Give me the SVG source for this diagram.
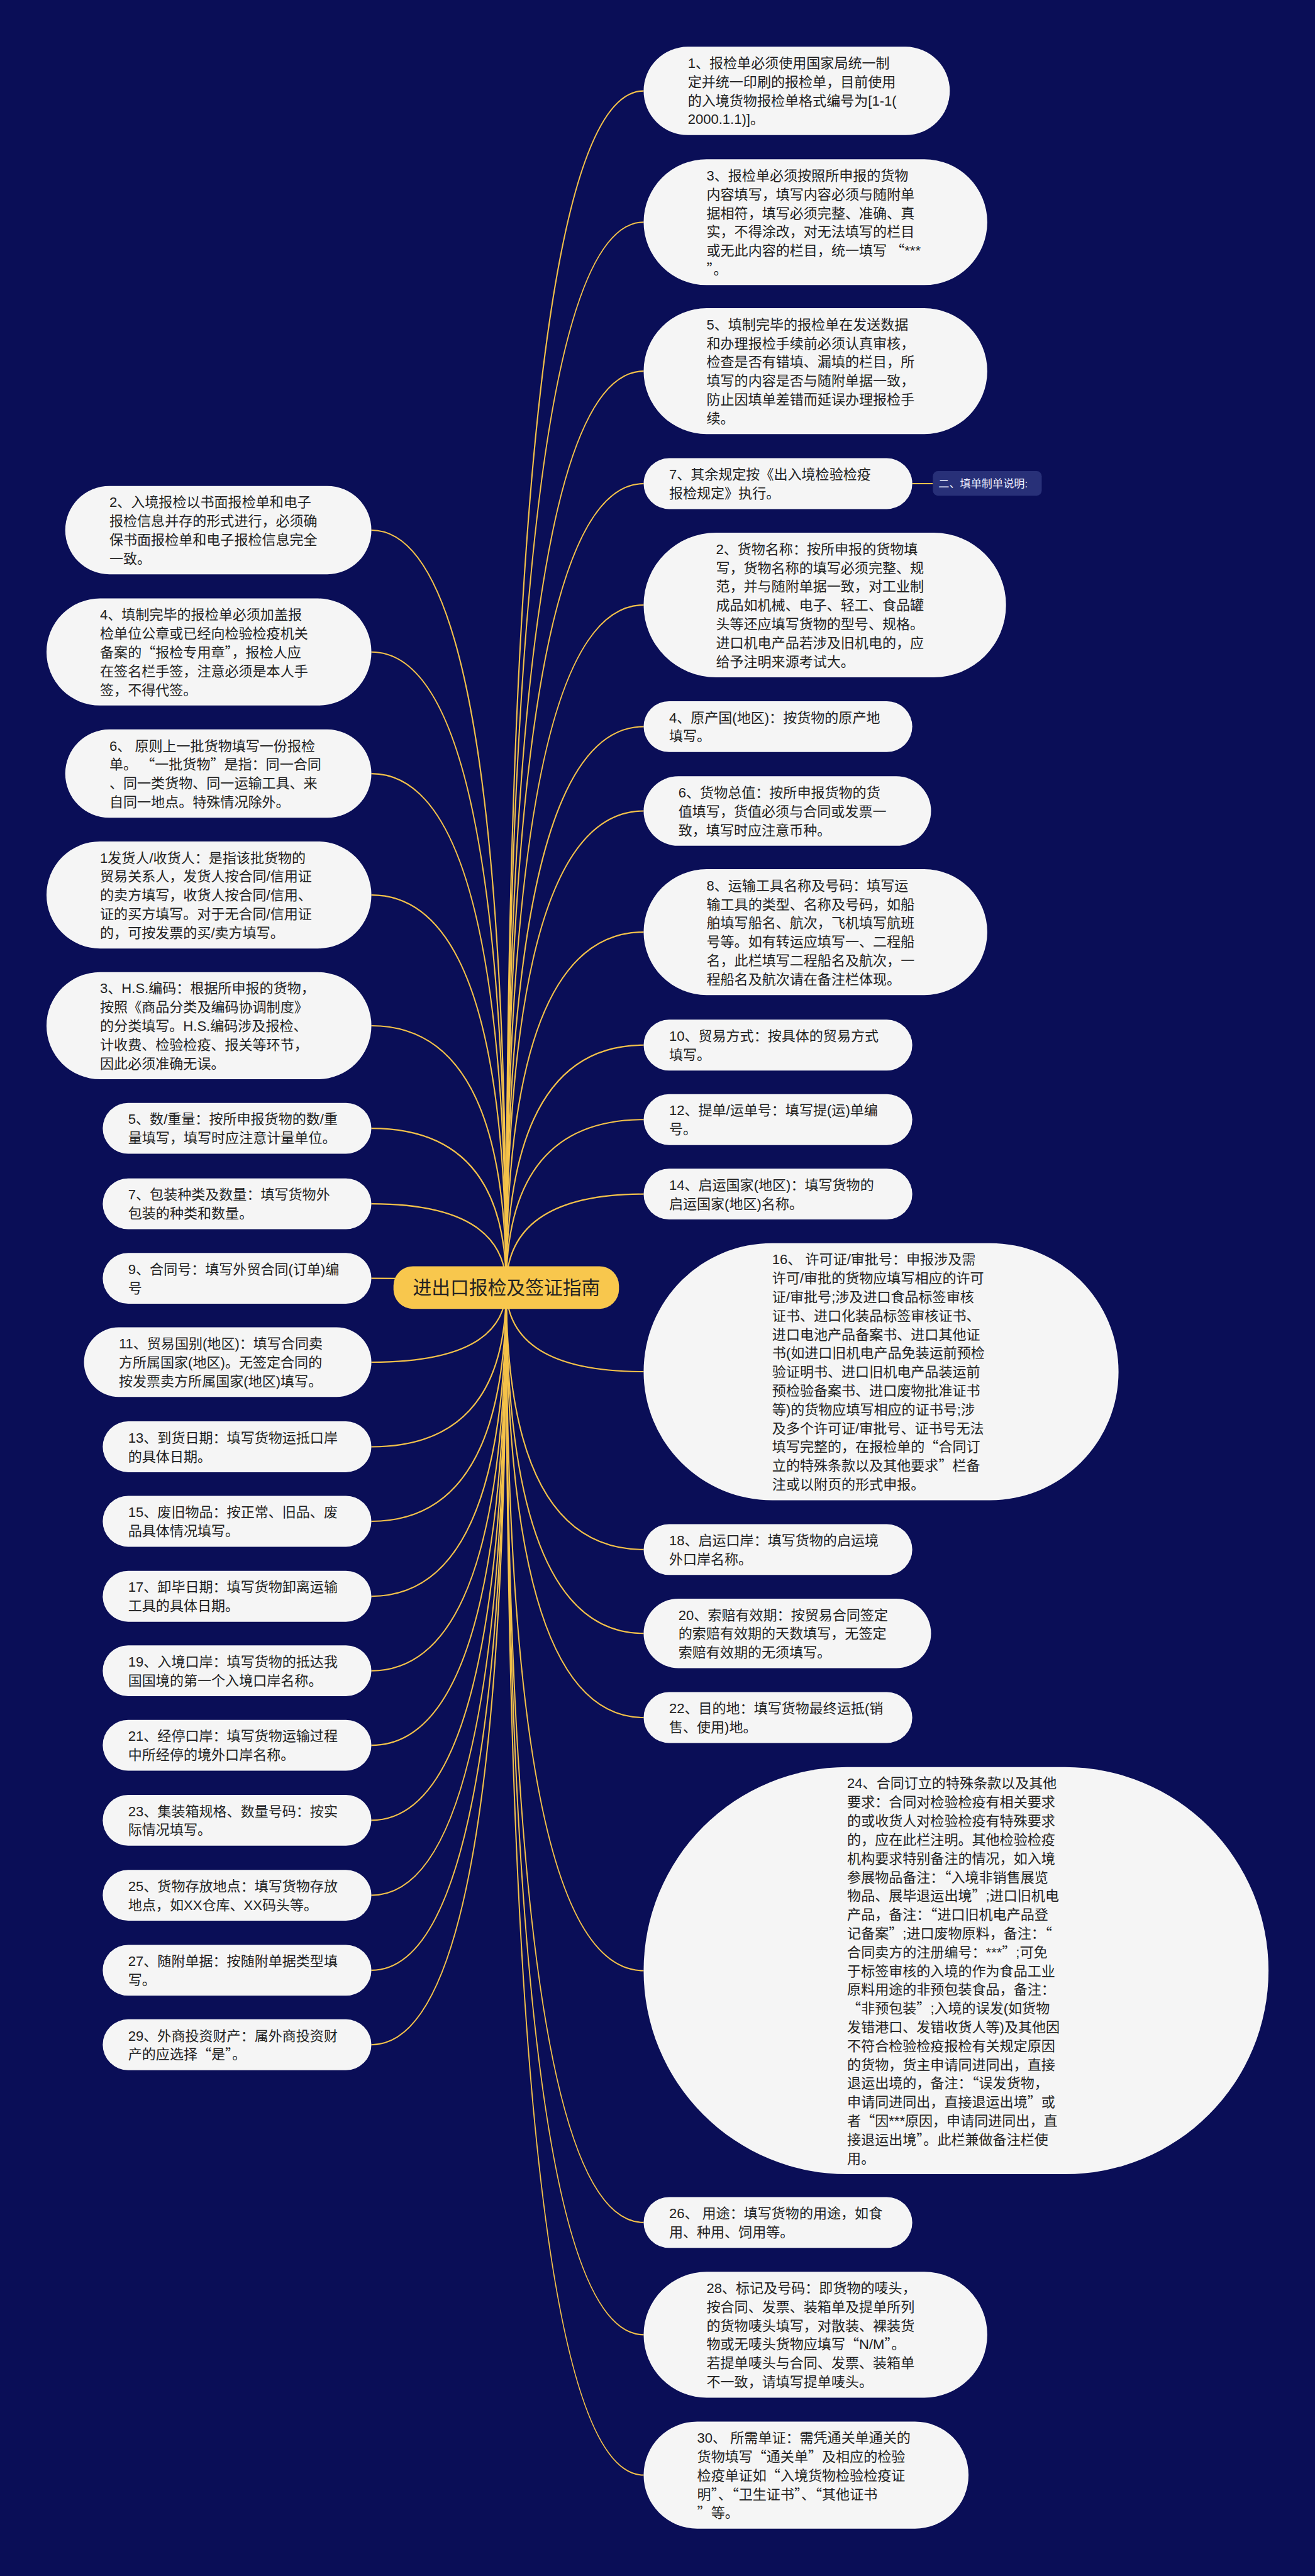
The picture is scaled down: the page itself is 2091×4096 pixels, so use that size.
<svg xmlns="http://www.w3.org/2000/svg" width="2091" height="4096" viewBox="0 0 2091 4096">
<style>
.bg{fill:#0a0e57}
.nd{fill:#f5f5f5}
.t{font-family:"Liberation Sans","Noto Sans CJK SC",sans-serif;font-size:27px;fill:#222222}
.q{font-family:"Noto Sans CJK SC",sans-serif;font-feature-settings:"fwid" 1}
.conn path{fill:none;stroke:#f4c24a;stroke-width:2.6}
.root{fill:#f8c74d}
.rt{font-family:"Liberation Sans","Noto Sans CJK SC",sans-serif;font-size:36.5px;fill:#222222;text-anchor:middle}
.lb{fill:#283078}
.lt{font-family:"Liberation Sans","Noto Sans CJK SC",sans-serif;font-size:21px;fill:#eef0ff}
</style>
<rect class="bg" x="0" y="0" width="2091" height="4096"/>
<g transform="scale(0.8168)">
<g id="connectors" class="conn">
<path d="M985.5 2506.5 Q985.5 177 1253 177"/>
<path d="M985.5 2506.5 Q985.5 432.5 1253 432.5"/>
<path d="M985.5 2506.5 Q985.5 722.5 1253 722.5"/>
<path d="M985.5 2506.5 Q985.5 941.5 1253 941.5"/>
<path d="M985.5 2506.5 Q985.5 1177.75 1253 1177.75"/>
<path d="M985.5 2506.5 Q985.5 1414.5 1253 1414.5"/>
<path d="M985.5 2506.5 Q985.5 1578.75 1253 1578.75"/>
<path d="M985.5 2506.5 Q985.5 1814.5 1253 1814.5"/>
<path d="M985.5 2506.5 Q985.5 2034.5 1253 2034.5"/>
<path d="M985.5 2506.5 Q985.5 2179.5 1253 2179.5"/>
<path d="M985.5 2506.5 Q985.5 2324.5 1253 2324.5"/>
<path d="M985.5 2506.5 Q985.5 2670.25 1253 2670.25"/>
<path d="M985.5 2506.5 Q985.5 3016.5 1253 3016.5"/>
<path d="M985.5 2506.5 Q985.5 3179.75 1253 3179.75"/>
<path d="M985.5 2506.5 Q985.5 3343.5 1253 3343.5"/>
<path d="M985.5 2506.5 Q985.5 3836.25 1253 3836.25"/>
<path d="M985.5 2506.5 Q985.5 4326.5 1253 4326.5"/>
<path d="M985.5 2506.5 Q985.5 4545 1253 4545"/>
<path d="M985.5 2506.5 Q985.5 4818.25 1253 4818.25"/>
<path d="M985.5 2506.5 Q985.5 1032 723 1032"/>
<path d="M985.5 2506.5 Q985.5 1269.25 723 1269.25"/>
<path d="M985.5 2506.5 Q985.5 1506 723 1506"/>
<path d="M985.5 2506.5 Q985.5 1742.25 723 1742.25"/>
<path d="M985.5 2506.5 Q985.5 1996.75 723 1996.75"/>
<path d="M985.5 2506.5 Q985.5 2196.5 723 2196.5"/>
<path d="M985.5 2506.5 Q985.5 2343.5 723 2343.5"/>
<path d="M985.5 2506.5 Q985.5 2488.5 723 2488.5"/>
<path d="M985.5 2506.5 Q985.5 2651.75 723 2651.75"/>
<path d="M985.5 2506.5 Q985.5 2816.5 723 2816.5"/>
<path d="M985.5 2506.5 Q985.5 2961.5 723 2961.5"/>
<path d="M985.5 2506.5 Q985.5 3107.5 723 3107.5"/>
<path d="M985.5 2506.5 Q985.5 3252.5 723 3252.5"/>
<path d="M985.5 2506.5 Q985.5 3397.5 723 3397.5"/>
<path d="M985.5 2506.5 Q985.5 3543.5 723 3543.5"/>
<path d="M985.5 2506.5 Q985.5 3689.5 723 3689.5"/>
<path d="M985.5 2506.5 Q985.5 3835.5 723 3835.5"/>
<path d="M985.5 2506.5 Q985.5 3980.5 723 3980.5"/>
<path d="M1776 941.5 L1816 941.5"/>
</g>

<g id="root">
<rect class="root" x="766" y="2465" width="439" height="83" rx="38"/>
<text class="rt" x="986" y="2520">进出口报检及签证指南</text>
</g>

<g id="label-fill">
<rect class="lb" x="1816" y="917" width="212" height="48" rx="10"/>
<text class="lt" x="1827" y="949">二、填单制单说明:</text>
</g>

<g id="r1"><rect class="nd" x="1253" y="91" width="596" height="172" rx="86"/>
<text class="t" x="1339" y="132.25"><tspan x="1339">1、报检单必须使用国家局统一制</tspan><tspan x="1339" dy="36.5">定并统一印刷的报检单，目前使用</tspan><tspan x="1339" dy="36.5">的入境货物报检单格式编号为[1-1(</tspan><tspan x="1339" dy="36.5">2000.1.1)]。</tspan></text></g>

<g id="r3"><rect class="nd" x="1253" y="310" width="669" height="245" rx="122.5"/>
<text class="t" x="1375.5" y="351.25"><tspan x="1375.5">3、报检单必须按照所申报的货物</tspan><tspan x="1375.5" dy="36.5">内容填写，填写内容必须与随附单</tspan><tspan x="1375.5" dy="36.5">据相符，填写必须完整、准确、真</tspan><tspan x="1375.5" dy="36.5">实，不得涂改，对无法填写的栏目</tspan><tspan x="1375.5" dy="36.5">或无此内容的栏目，统一填写 <tspan class="q">“</tspan>***</tspan><tspan x="1375.5" dy="36.5"><tspan class="q">”</tspan>。</tspan></text></g>

<g id="r5"><rect class="nd" x="1253" y="600" width="669" height="245" rx="122.5"/>
<text class="t" x="1375.5" y="641.25"><tspan x="1375.5">5、填制完毕的报检单在发送数据</tspan><tspan x="1375.5" dy="36.5">和办理报检手续前必须认真审核，</tspan><tspan x="1375.5" dy="36.5">检查是否有错填、漏填的栏目，所</tspan><tspan x="1375.5" dy="36.5">填写的内容是否与随附单据一致，</tspan><tspan x="1375.5" dy="36.5">防止因填单差错而延误办理报检手</tspan><tspan x="1375.5" dy="36.5">续。</tspan></text></g>

<g id="r7"><rect class="nd" x="1253" y="892" width="523" height="99" rx="49.5"/>
<text class="t" x="1302.5" y="933.25"><tspan x="1302.5">7、其余规定按《出入境检验检疫</tspan><tspan x="1302.5" dy="36.5">报检规定》执行。</tspan></text></g>

<g id="r2"><rect class="nd" x="1253" y="1037" width="705.5" height="281.5" rx="140.75"/>
<text class="t" x="1393.75" y="1078.25"><tspan x="1393.75">2、货物名称：按所申报的货物填</tspan><tspan x="1393.75" dy="36.5">写，货物名称的填写必须完整、规</tspan><tspan x="1393.75" dy="36.5">范，并与随附单据一致，对工业制</tspan><tspan x="1393.75" dy="36.5">成品如机械、电子、轻工、食品罐</tspan><tspan x="1393.75" dy="36.5">头等还应填写货物的型号、规格。</tspan><tspan x="1393.75" dy="36.5">进口机电产品若涉及旧机电的，应</tspan><tspan x="1393.75" dy="36.5">给予注明来源考试大。</tspan></text></g>

<g id="r4"><rect class="nd" x="1253" y="1365" width="523" height="99" rx="49.5"/>
<text class="t" x="1302.5" y="1406.25"><tspan x="1302.5">4、原产国(地区)：按货物的原产地</tspan><tspan x="1302.5" dy="36.5">填写。</tspan></text></g>

<g id="r6"><rect class="nd" x="1253" y="1511" width="559.5" height="135.5" rx="67.75"/>
<text class="t" x="1320.75" y="1552.25"><tspan x="1320.75">6、货物总值：按所申报货物的货</tspan><tspan x="1320.75" dy="36.5">值填写，货值必须与合同或发票一</tspan><tspan x="1320.75" dy="36.5">致，填写时应注意币种。</tspan></text></g>

<g id="r8"><rect class="nd" x="1253" y="1692" width="669" height="245" rx="122.5"/>
<text class="t" x="1375.5" y="1733.25"><tspan x="1375.5">8、运输工具名称及号码：填写运</tspan><tspan x="1375.5" dy="36.5">输工具的类型、名称及号码，如船</tspan><tspan x="1375.5" dy="36.5">舶填写船名、航次，飞机填写航班</tspan><tspan x="1375.5" dy="36.5">号等。如有转运应填写一、二程船</tspan><tspan x="1375.5" dy="36.5">名，此栏填写二程船名及航次，一</tspan><tspan x="1375.5" dy="36.5">程船名及航次请在备注栏体现。</tspan></text></g>

<g id="r10"><rect class="nd" x="1253" y="1985" width="523" height="99" rx="49.5"/>
<text class="t" x="1302.5" y="2026.25"><tspan x="1302.5">10、贸易方式：按具体的贸易方式</tspan><tspan x="1302.5" dy="36.5">填写。</tspan></text></g>

<g id="r12"><rect class="nd" x="1253" y="2130" width="523" height="99" rx="49.5"/>
<text class="t" x="1302.5" y="2171.25"><tspan x="1302.5">12、提单/运单号：填写提(运)单编</tspan><tspan x="1302.5" dy="36.5">号。</tspan></text></g>

<g id="r14"><rect class="nd" x="1253" y="2275" width="523" height="99" rx="49.5"/>
<text class="t" x="1302.5" y="2316.25"><tspan x="1302.5">14、启运国家(地区)：填写货物的</tspan><tspan x="1302.5" dy="36.5">启运国家(地区)名称。</tspan></text></g>

<g id="r16"><rect class="nd" x="1253" y="2420" width="924.5" height="500.5" rx="250.25"/>
<text class="t" x="1503.25" y="2461.25"><tspan x="1503.25">16、 许可证/审批号：申报涉及需</tspan><tspan x="1503.25" dy="36.5">许可/审批的货物应填写相应的许可</tspan><tspan x="1503.25" dy="36.5">证/审批号;涉及进口食品标签审核</tspan><tspan x="1503.25" dy="36.5">证书、进口化装品标签审核证书、</tspan><tspan x="1503.25" dy="36.5">进口电池产品备案书、进口其他证</tspan><tspan x="1503.25" dy="36.5">书(如进口旧机电产品免装运前预检</tspan><tspan x="1503.25" dy="36.5">验证明书、进口旧机电产品装运前</tspan><tspan x="1503.25" dy="36.5">预检验备案书、进口废物批准证书</tspan><tspan x="1503.25" dy="36.5">等)的货物应填写相应的证书号;涉</tspan><tspan x="1503.25" dy="36.5">及多个许可证/审批号、证书号无法</tspan><tspan x="1503.25" dy="36.5">填写完整的，在报检单的<tspan class="q">“</tspan>合同订</tspan><tspan x="1503.25" dy="36.5">立的特殊条款以及其他要求<tspan class="q">”</tspan>栏备</tspan><tspan x="1503.25" dy="36.5">注或以附页的形式申报。</tspan></text></g>

<g id="r18"><rect class="nd" x="1253" y="2967" width="523" height="99" rx="49.5"/>
<text class="t" x="1302.5" y="3008.25"><tspan x="1302.5">18、启运口岸：填写货物的启运境</tspan><tspan x="1302.5" dy="36.5">外口岸名称。</tspan></text></g>

<g id="r20"><rect class="nd" x="1253" y="3112" width="559.5" height="135.5" rx="67.75"/>
<text class="t" x="1320.75" y="3153.25"><tspan x="1320.75">20、索赔有效期：按贸易合同签定</tspan><tspan x="1320.75" dy="36.5">的索赔有效期的天数填写，无签定</tspan><tspan x="1320.75" dy="36.5">索赔有效期的无须填写。</tspan></text></g>

<g id="r22"><rect class="nd" x="1253" y="3294" width="523" height="99" rx="49.5"/>
<text class="t" x="1302.5" y="3335.25"><tspan x="1302.5">22、目的地：填写货物最终运抵(销</tspan><tspan x="1302.5" dy="36.5">售、使用)地。</tspan></text></g>

<g id="r24"><rect class="nd" x="1253" y="3440" width="1216.5" height="792.5" rx="396.25"/>
<text class="t" x="1649.25" y="3481.25"><tspan x="1649.25">24、合同订立的特殊条款以及其他</tspan><tspan x="1649.25" dy="36.5">要求：合同对检验检疫有相关要求</tspan><tspan x="1649.25" dy="36.5">的或收货人对检验检疫有特殊要求</tspan><tspan x="1649.25" dy="36.5">的，应在此栏注明。其他检验检疫</tspan><tspan x="1649.25" dy="36.5">机构要求特别备注的情况，如入境</tspan><tspan x="1649.25" dy="36.5">参展物品备注：<tspan class="q">“</tspan>入境非销售展览</tspan><tspan x="1649.25" dy="36.5">物品、展毕退运出境<tspan class="q">”</tspan>;进口旧机电</tspan><tspan x="1649.25" dy="36.5">产品，备注：<tspan class="q">“</tspan>进口旧机电产品登</tspan><tspan x="1649.25" dy="36.5">记备案<tspan class="q">”</tspan>;进口废物原料，备注：<tspan class="q">“</tspan></tspan><tspan x="1649.25" dy="36.5">合同卖方的注册编号：***<tspan class="q">”</tspan>;可免</tspan><tspan x="1649.25" dy="36.5">于标签审核的入境的作为食品工业</tspan><tspan x="1649.25" dy="36.5">原料用途的非预包装食品，备注：</tspan><tspan x="1649.25" dy="36.5"><tspan class="q">“</tspan>非预包装<tspan class="q">”</tspan>;入境的误发(如货物</tspan><tspan x="1649.25" dy="36.5">发错港口、发错收货人等)及其他因</tspan><tspan x="1649.25" dy="36.5">不符合检验检疫报检有关规定原因</tspan><tspan x="1649.25" dy="36.5">的货物，货主申请同进同出，直接</tspan><tspan x="1649.25" dy="36.5">退运出境的，备注：<tspan class="q">“</tspan>误发货物，</tspan><tspan x="1649.25" dy="36.5">申请同进同出，直接退运出境<tspan class="q">”</tspan>或</tspan><tspan x="1649.25" dy="36.5">者<tspan class="q">“</tspan>因***原因，申请同进同出，直</tspan><tspan x="1649.25" dy="36.5">接退运出境<tspan class="q">”</tspan>。此栏兼做备注栏使</tspan><tspan x="1649.25" dy="36.5">用。</tspan></text></g>

<g id="r26"><rect class="nd" x="1253" y="4277" width="523" height="99" rx="49.5"/>
<text class="t" x="1302.5" y="4318.25"><tspan x="1302.5">26、 用途：填写货物的用途，如食</tspan><tspan x="1302.5" dy="36.5">用、种用、饲用等。</tspan></text></g>

<g id="r28"><rect class="nd" x="1253" y="4422.5" width="669" height="245" rx="122.5"/>
<text class="t" x="1375.5" y="4463.75"><tspan x="1375.5">28、标记及号码：即货物的唛头，</tspan><tspan x="1375.5" dy="36.5">按合同、发票、装箱单及提单所列</tspan><tspan x="1375.5" dy="36.5">的货物唛头填写，对散装、裸装货</tspan><tspan x="1375.5" dy="36.5">物或无唛头货物应填写<tspan class="q">“</tspan>N/M<tspan class="q">”</tspan>。</tspan><tspan x="1375.5" dy="36.5">若提单唛头与合同、发票、装箱单</tspan><tspan x="1375.5" dy="36.5">不一致，请填写提单唛头。</tspan></text></g>

<g id="r30"><rect class="nd" x="1253" y="4714" width="632.5" height="208.5" rx="104.25"/>
<text class="t" x="1357.25" y="4755.25"><tspan x="1357.25">30、 所需单证：需凭通关单通关的</tspan><tspan x="1357.25" dy="36.5">货物填写<tspan class="q">“</tspan>通关单<tspan class="q">”</tspan>及相应的检验</tspan><tspan x="1357.25" dy="36.5">检疫单证如<tspan class="q">“</tspan>入境货物检验检疫证</tspan><tspan x="1357.25" dy="36.5">明<tspan class="q">”</tspan>、<tspan class="q">“</tspan>卫生证书<tspan class="q">”</tspan>、<tspan class="q">“</tspan>其他证书</tspan><tspan x="1357.25" dy="36.5"><tspan class="q">”</tspan>等。</tspan></text></g>

<g id="l2"><rect class="nd" x="127" y="946" width="596" height="172" rx="86"/>
<text class="t" x="213" y="987.25"><tspan x="213">2、入境报检以书面报检单和电子</tspan><tspan x="213" dy="36.5">报检信息并存的形式进行，必须确</tspan><tspan x="213" dy="36.5">保书面报检单和电子报检信息完全</tspan><tspan x="213" dy="36.5">一致。</tspan></text></g>

<g id="l4"><rect class="nd" x="90.5" y="1165" width="632.5" height="208.5" rx="104.25"/>
<text class="t" x="194.75" y="1206.25"><tspan x="194.75">4、填制完毕的报检单必须加盖报</tspan><tspan x="194.75" dy="36.5">检单位公章或已经向检验检疫机关</tspan><tspan x="194.75" dy="36.5">备案的<tspan class="q">“</tspan>报检专用章<tspan class="q">”</tspan>，报检人应</tspan><tspan x="194.75" dy="36.5">在签名栏手签，注意必须是本人手</tspan><tspan x="194.75" dy="36.5">签，不得代签。</tspan></text></g>

<g id="l6"><rect class="nd" x="127" y="1420" width="596" height="172" rx="86"/>
<text class="t" x="213" y="1461.25"><tspan x="213">6、 原则上一批货物填写一份报检</tspan><tspan x="213" dy="36.5">单。 <tspan class="q">“</tspan>一批货物<tspan class="q">”</tspan>是指：同一合同</tspan><tspan x="213" dy="36.5">、同一类货物、同一运输工具、来</tspan><tspan x="213" dy="36.5">自同一地点。特殊情况除外。</tspan></text></g>

<g id="l1"><rect class="nd" x="90.5" y="1638" width="632.5" height="208.5" rx="104.25"/>
<text class="t" x="194.75" y="1679.25"><tspan x="194.75">1发货人/收货人：是指该批货物的</tspan><tspan x="194.75" dy="36.5">贸易关系人，发货人按合同/信用证</tspan><tspan x="194.75" dy="36.5">的卖方填写，收货人按合同/信用、</tspan><tspan x="194.75" dy="36.5">证的买方填写。对于无合同/信用证</tspan><tspan x="194.75" dy="36.5">的，可按发票的买/卖方填写。</tspan></text></g>

<g id="l3"><rect class="nd" x="90.5" y="1892.5" width="632.5" height="208.5" rx="104.25"/>
<text class="t" x="194.75" y="1933.75"><tspan x="194.75">3、H.S.编码：根据所申报的货物，</tspan><tspan x="194.75" dy="36.5">按照《商品分类及编码协调制度》</tspan><tspan x="194.75" dy="36.5">的分类填写。H.S.编码涉及报检、</tspan><tspan x="194.75" dy="36.5">计收费、检验检疫、报关等环节，</tspan><tspan x="194.75" dy="36.5">因此必须准确无误。</tspan></text></g>

<g id="l5"><rect class="nd" x="200" y="2147" width="523" height="99" rx="49.5"/>
<text class="t" x="249.5" y="2188.25"><tspan x="249.5">5、数/重量：按所申报货物的数/重</tspan><tspan x="249.5" dy="36.5">量填写，填写时应注意计量单位。</tspan></text></g>

<g id="l7"><rect class="nd" x="200" y="2294" width="523" height="99" rx="49.5"/>
<text class="t" x="249.5" y="2335.25"><tspan x="249.5">7、包装种类及数量：填写货物外</tspan><tspan x="249.5" dy="36.5">包装的种类和数量。</tspan></text></g>

<g id="l9"><rect class="nd" x="200" y="2439" width="523" height="99" rx="49.5"/>
<text class="t" x="249.5" y="2480.25"><tspan x="249.5">9、合同号：填写外贸合同(订单)编</tspan><tspan x="249.5" dy="36.5">号</tspan></text></g>

<g id="l11"><rect class="nd" x="163.5" y="2584" width="559.5" height="135.5" rx="67.75"/>
<text class="t" x="231.25" y="2625.25"><tspan x="231.25">11、贸易国别(地区)：填写合同卖</tspan><tspan x="231.25" dy="36.5">方所属国家(地区)。无签定合同的</tspan><tspan x="231.25" dy="36.5">按发票卖方所属国家(地区)填写。</tspan></text></g>

<g id="l13"><rect class="nd" x="200" y="2767" width="523" height="99" rx="49.5"/>
<text class="t" x="249.5" y="2808.25"><tspan x="249.5">13、到货日期：填写货物运抵口岸</tspan><tspan x="249.5" dy="36.5">的具体日期。</tspan></text></g>

<g id="l15"><rect class="nd" x="200" y="2912" width="523" height="99" rx="49.5"/>
<text class="t" x="249.5" y="2953.25"><tspan x="249.5">15、废旧物品：按正常、旧品、废</tspan><tspan x="249.5" dy="36.5">品具体情况填写。</tspan></text></g>

<g id="l17"><rect class="nd" x="200" y="3058" width="523" height="99" rx="49.5"/>
<text class="t" x="249.5" y="3099.25"><tspan x="249.5">17、卸毕日期：填写货物卸离运输</tspan><tspan x="249.5" dy="36.5">工具的具体日期。</tspan></text></g>

<g id="l19"><rect class="nd" x="200" y="3203" width="523" height="99" rx="49.5"/>
<text class="t" x="249.5" y="3244.25"><tspan x="249.5">19、入境口岸：填写货物的抵达我</tspan><tspan x="249.5" dy="36.5">国国境的第一个入境口岸名称。</tspan></text></g>

<g id="l21"><rect class="nd" x="200" y="3348" width="523" height="99" rx="49.5"/>
<text class="t" x="249.5" y="3389.25"><tspan x="249.5">21、经停口岸：填写货物运输过程</tspan><tspan x="249.5" dy="36.5">中所经停的境外口岸名称。</tspan></text></g>

<g id="l23"><rect class="nd" x="200" y="3494" width="523" height="99" rx="49.5"/>
<text class="t" x="249.5" y="3535.25"><tspan x="249.5">23、集装箱规格、数量号码：按实</tspan><tspan x="249.5" dy="36.5">际情况填写。</tspan></text></g>

<g id="l25"><rect class="nd" x="200" y="3640" width="523" height="99" rx="49.5"/>
<text class="t" x="249.5" y="3681.25"><tspan x="249.5">25、货物存放地点：填写货物存放</tspan><tspan x="249.5" dy="36.5">地点，如XX仓库、XX码头等。</tspan></text></g>

<g id="l27"><rect class="nd" x="200" y="3786" width="523" height="99" rx="49.5"/>
<text class="t" x="249.5" y="3827.25"><tspan x="249.5">27、随附单据：按随附单据类型填</tspan><tspan x="249.5" dy="36.5">写。</tspan></text></g>

<g id="l29"><rect class="nd" x="200" y="3931" width="523" height="99" rx="49.5"/>
<text class="t" x="249.5" y="3972.25"><tspan x="249.5">29、外商投资财产：属外商投资财</tspan><tspan x="249.5" dy="36.5">产的应选择<tspan class="q">“</tspan>是<tspan class="q">”</tspan>。</tspan></text></g>
</g>
</svg>
